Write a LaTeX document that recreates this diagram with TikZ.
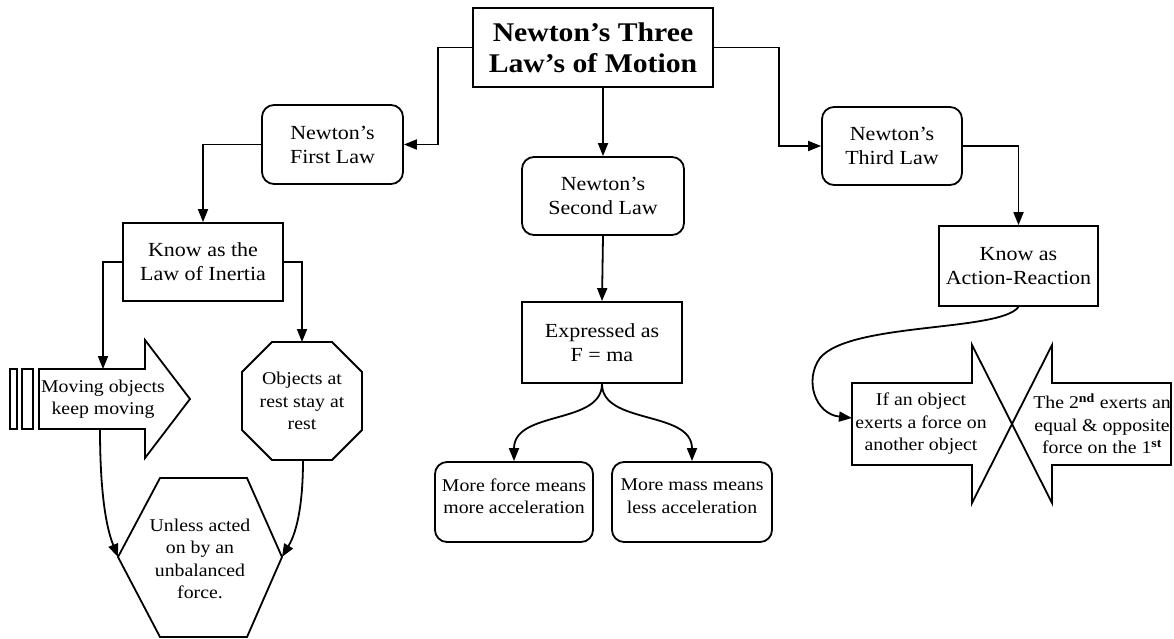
\documentclass[tikz,border=0pt]{standalone}
\usepackage{fontspec}
\setmainfont{Liberation Serif}[FakeStretch=1.1]
\usetikzlibrary{arrows.meta}
\begin{document}
\begin{tikzpicture}[x=1pt,y=-1pt,
  line width=1.8pt,
  arr/.style={-{Triangle[length=13pt,width=10pt]}},
  bigtxt/.style={font=\fontsize{20}{24}\selectfont, align=center},
  smtxt/.style={font=\fontsize{18}{22.5}\selectfont, align=center},
  rbox/.style={draw, rounded corners=12pt, inner sep=0pt, bigtxt},
  sbox/.style={draw, inner sep=0pt, bigtxt}
]
\fill[white] (0,0) rectangle (1174,639);
\useasboundingbox (0,0) rectangle (1174,639);

% boxes
\node[sbox, minimum width=240pt, minimum height=79pt, font=\fontsize{27}{31}\selectfont\bfseries] (title) at (593,47.5) {Newton’s Three\\Law’s of Motion};
\node[rbox, minimum width=141pt, minimum height=79pt] (first) at (332.5,144.5) {Newton’s\\First Law};
\node[rbox, minimum width=162pt, minimum height=78pt] (second) at (603,196) {Newton’s\\Second Law};
\node[rbox, minimum width=140pt, minimum height=78pt] (third) at (892,146) {Newton’s\\Third Law};
\node[sbox, minimum width=160pt, minimum height=78pt] (inertia) at (203,262) {Know as the\\Law of Inertia};
\node[sbox, minimum width=159pt, minimum height=80pt] (action) at (1018.5,266) {Know as\\Action-Reaction};
\node[sbox, minimum width=160pt, minimum height=81pt] (expressed) at (602,342.5) {Expressed as\\F = ma};
\node[rbox, smtxt, minimum width=158pt, minimum height=80pt, text depth=12pt] (force) at (514,502) {More force means\\more acceleration};
\node[rbox, smtxt, minimum width=160pt, minimum height=80pt, text depth=12pt] (mass) at (692,502) {More mass means\\less acceleration};

% moving objects arrow
\draw (10,369) rectangle (17,429);
\draw (22,369) rectangle (33,429);
\draw (39,369) -- (145,369) -- (145,340) -- (190,399) -- (145,458) -- (145,429) -- (39,429) -- cycle;
\node[smtxt] (moving) at (103,399) {Moving objects\\keep moving};
\coordinate (movtop) at (103,369);
\coordinate (movbot) at (100,429);

% octagon
\draw (272,342) -- (332,342) -- (362,372) -- (362,430) -- (332,460) -- (272,460) -- (242,430) -- (242,372) -- cycle;
\node[smtxt] (rest) at (302,401) {Objects at\\rest stay at\\rest};
\coordinate (octtop) at (302,342);
\coordinate (octbot) at (303,460);

% hexagon
\draw (160,478) -- (247,478) -- (282,557) -- (247,637) -- (160,637) -- (118,557) -- cycle;
\node[smtxt] (unless) at (200,559) {Unless acted\\on by an\\unbalanced\\force.};
\coordinate (hexL) at (118,557);
\coordinate (hexR) at (282,557);

% action-reaction arrows
\draw (852,383) -- (972,383) -- (972,345) -- (1012,424) -- (972,503) -- (972,465) -- (852,465) -- cycle;
\draw (1171,383) -- (1052,383) -- (1052,345) -- (1012,424) -- (1052,503) -- (1052,465) -- (1171,465) -- cycle;
\node[smtxt] (ifobj) at (921,424) {If an object\\exerts a force on\\another object};
\node[smtxt] (reply) at (1102,424) {The 2\textsuperscript{\bfseries nd} exerts an\\equal \& opposite\\force on the 1\textsuperscript{\bfseries st}};
\coordinate (arrL) at (852,418);

% connectors
\draw[arr] (title.west) -- ++(-34,0) |- (first.east);
\draw[arr] (title.south -| second.north) -- (second.north);
\draw[arr] (title.east) -- ++(65,0) |- (third.west);
\draw[arr] (first.west) -| (inertia.north);
\draw[arr] (inertia.west) -| (movtop);
\draw[arr] (inertia.east) -| (octtop);
\draw[arr] (second.south) -- (expressed.north);
\draw[arr] (expressed.south) .. controls (602,425) and (514,410) .. (force.north);
\draw[arr] (expressed.south) .. controls (602,425) and (692,410) .. (mass.north);
\draw[arr] (third.east) -| (action.north);
\draw[arr] (action.south) .. controls (1000,332) and (850,322) .. (820,358) .. controls (804,380) and (815,414) .. (arrL);
\draw[arr] (movbot) .. controls (100,480) and (104,522) .. (hexL);
\draw[arr] (octbot) .. controls (303,500) and (298,530) .. (hexR);
\end{tikzpicture}
\end{document}
